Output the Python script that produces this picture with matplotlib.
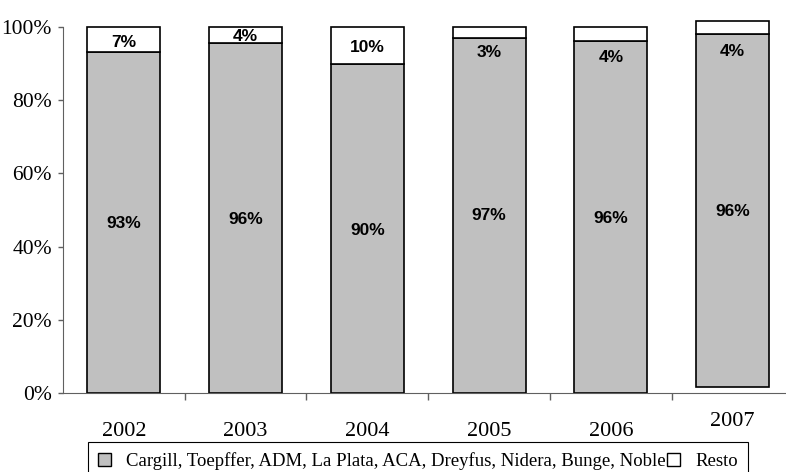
import matplotlib
matplotlib.use('Agg')
import matplotlib.pyplot as plt
import matplotlib.transforms as mtransforms
from matplotlib.patches import Patch

years = ['2002', '2003', '2004', '2005', '2006', '2007']
# share of the 8 big exporters and of the rest, as drawn (percent)
big8 = [93.2, 95.6, 89.9, 97.0, 96.2, 96.5]
resto = [6.8, 4.4, 10.1, 3.0, 3.8, 3.5]
base = [0, 0, 0, 0, 0, 1.6]
big8_lbl = ['93%', '96%', '90%', '97%', '96%', '96%']
resto_lbl = ['7%', '4%', '10%', '3%', '4%', '4%']
yticks = [0, 20, 40, 60, 80, 100]

# where the labels sit (percent on the y axis)
big8_lbl_y = [46.4, 47.5, 44.5, 48.4, 47.8, 49.5]
resto_lbl_y = [95.9, 97.3, 94.3, 92.9, 91.8, 93.4]

serif = 'Liberation Serif'
W, H = 786, 472
fig = plt.figure(figsize=(W / 100, H / 100), dpi=100)
ax = fig.add_axes([63 / W, 79 / H, 1 - 63 / W, 366 / H])

x = list(range(len(years)))
top_base = [b + g for b, g in zip(base, big8)]
ax.bar(x, big8, width=0.6, bottom=base, color='#C0C0C0', edgecolor='black',
       linewidth=1.2, clip_on=False)
ax.bar(x, resto, width=0.6, bottom=top_base, color='white', edgecolor='black',
       linewidth=1.2, clip_on=False)

for i in x:
    ax.text(i, big8_lbl_y[i], big8_lbl[i], ha='center', va='center',
            fontsize=12.5, fontweight='bold', family='Liberation Sans')
    ax.text(i, resto_lbl_y[i], resto_lbl[i], ha='center', va='center',
            fontsize=12.5, fontweight='bold', family='Liberation Sans')

ax.set_xlim(-0.5, -0.5 + 723 / 121.75)
ax.set_ylim(0, 100)
ax.set_yticks(yticks)
ax.set_yticklabels([f'{t}%' for t in yticks], fontsize=15.5, family=serif)
off = mtransforms.ScaledTranslation(0, 6 / 100, fig.dpi_scale_trans)
for lab in ax.get_yticklabels():
    lab.set_transform(lab.get_transform() + off)
ax.tick_params(axis='y', length=3.6, width=1, color='#606060', pad=4.3)

ax.set_xticks([i + 0.5 for i in x[:-1]])
ax.set_xticklabels([])
ax.tick_params(axis='x', length=5, width=1, color='#606060')

trans = mtransforms.blended_transform_factory(ax.transData, ax.transAxes)
for i, yr in enumerate(years):
    yy = -0.079 if yr == '2007' else -0.104
    ax.text(i, yy, yr, ha='center', va='center', fontsize=16, family=serif,
            transform=trans)

for s in ['top', 'right']:
    ax.spines[s].set_visible(False)
ax.spines['left'].set_color('#606060')
ax.spines['bottom'].set_color('#606060')

handles = [Patch(facecolor='#C0C0C0', edgecolor='black', linewidth=1),
           Patch(facecolor='white', edgecolor='black', linewidth=1)]
labels = ['Cargill, Toepffer, ADM, La Plata, ACA, Dreyfus, Nidera, Bunge, Noble', 'Resto']
leg = fig.legend(handles, labels, ncol=2, loc='upper left',
                 bbox_to_anchor=(88 / W, 1 - 442 / H), frameon=True,
                 fancybox=False, edgecolor='black', framealpha=1,
                 prop={'family': serif, 'size': 13.5}, handlelength=0.7,
                 handleheight=0.7, handletextpad=0.8, columnspacing=0.05,
                 borderpad=0.55, borderaxespad=0)
leg.get_frame().set_linewidth(0.8)

fig.savefig('out.png', dpi=100)
